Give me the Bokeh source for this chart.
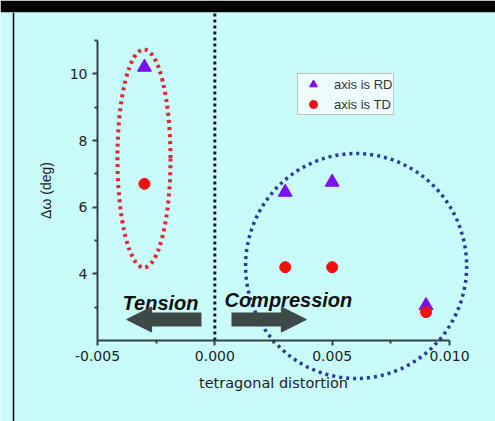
from bokeh.plotting import figure
from bokeh.models import (Range1d, FixedTicker, NumeralTickFormatter, Span, Arrow,
                          NormalHead, ColumnDataSource, Legend, LegendItem)
from bokeh.core.properties import value
from bokeh.embed import file_html
from bokeh.resources import INLINE

# ---- data ----
rd_x = [-0.003, 0.003, 0.005, 0.009]
rd_y = [10.2, 6.45, 6.75, 3.05]
td_x = [-0.003, 0.003, 0.005, 0.009]
td_y = [6.7, 4.2, 4.2, 2.85]

x_ticks = [-0.005, 0.0, 0.005, 0.010]
x_minor = [-0.0025, 0.0025, 0.0075]
y_ticks = [4, 6, 8, 10]
y_minor = [3, 5, 7, 9, 11]

# grouping ellipses (red: tension group, blue: compression group)
ell_x = [-0.00302, 0.00602]
ell_y = [7.46, 4.235]
ell_w = [0.00226, 0.00942]
ell_h = [6.54, 6.75]

# annotation arrows and words
arrow_x0 = [-0.00057, 0.00071]
arrow_x1 = [-0.00376, 0.0039]
arrow_y = [2.63, 2.63]
note_text = ["Tension", "Compression"]
note_x = [-0.00393, 0.00041]
note_y = [3.14, 3.23]

BG = "#c9fbfb"
PURPLE = "#7b10f0"
RED = "#f01010"
ARROW = "#3d4947"
AXIS = "#354141"

p = figure(width=495, height=421, output_backend="svg", toolbar_location=None,
           x_range=Range1d(-0.0091335, 0.0119602), y_range=Range1d(-0.43, 11.84),
           min_border_top=12, min_border_left=0, min_border_right=0, min_border_bottom=0,
           border_fill_color="black", background_fill_color=BG, outline_line_color=None)
p.grid.visible = False

# axes at fixed data positions
p.xaxis.fixed_location = 2
p.yaxis.fixed_location = -0.005
p.xaxis.bounds = (-0.005, 0.010)
p.yaxis.bounds = (2, 11)
p.xaxis.ticker = FixedTicker(ticks=x_ticks, minor_ticks=x_minor)
p.yaxis.ticker = FixedTicker(ticks=y_ticks, minor_ticks=y_minor)
p.xaxis.formatter = NumeralTickFormatter(format="0.000")
p.yaxis.formatter = NumeralTickFormatter(format="0")
for ax in (p.xaxis, p.yaxis):
    ax.axis_line_color = AXIS
    ax.axis_line_width = 2
    ax.major_tick_line_color = AXIS
    ax.major_tick_line_width = 2
    ax.minor_tick_line_color = AXIS
    ax.minor_tick_line_width = 2
    ax.major_tick_in = 0
    ax.major_tick_out = 5
    ax.minor_tick_in = 0
    ax.minor_tick_out = 3
    ax.major_label_text_font = "DejaVu Sans"
    ax.major_label_text_font_size = "14px"
    ax.major_label_text_color = "#1e1e1e"
    ax.major_label_standoff = 5
    ax.axis_label_text_font_style = "normal"
    ax.axis_label_text_color = "#1e1e1e"
p.xaxis.axis_label = "tetragonal distortion"
p.xaxis.axis_label_text_font = "DejaVu Sans"
p.xaxis.axis_label_text_font_size = "14.5px"
p.xaxis.axis_label_standoff = 11
p.yaxis.axis_label = "Δω (deg)"
p.yaxis.axis_label_text_font = "Liberation Sans"
p.yaxis.axis_label_text_font_size = "14px"
p.yaxis.axis_label_standoff = 13

# left frame line
p.add_layout(Span(location=13, location_units="screen", dimension="height",
                  line_color="black", line_width=1.5))

# dotted zero line
p.segment(x0=[0.0], y0=[2], x1=[0.0], y1=[11.84], line_color="#1a1a1a",
          line_width=3, line_dash="3 3")

# grouping ellipses
p.ellipse(x=ell_x[:1], y=ell_y[:1], width=ell_w[:1], height=ell_h[:1],
          fill_color=None, line_color="#e0262e", line_width=4, line_dash="3 4")
p.ellipse(x=ell_x[1:], y=ell_y[1:], width=ell_w[1:], height=ell_h[1:],
          fill_color=None, line_color="#2b3b9b", line_width=3.5, line_dash="3 4")

# arrows
asrc = ColumnDataSource(dict(x0=arrow_x0, x1=arrow_x1, y=arrow_y))
p.add_layout(Arrow(source=asrc, x_start="x0", y_start="y", x_end="x1", y_end="y",
                   line_width=14, line_color=ARROW,
                   end=NormalHead(size=25, fill_color=ARROW, line_color=ARROW)))

p.text(x=note_x, y=note_y, text=note_text, text_font=value("Liberation Sans"),
       text_font_size="20px", text_font_style="bold italic", text_color="#111111",
       text_align="left", text_baseline="alphabetic")

# data points
r1 = p.scatter(rd_x, rd_y, marker="triangle", size=14, color=PURPLE)
r2 = p.scatter(td_x, td_y, marker="circle", size=11, color=RED)

legend = Legend(items=[LegendItem(label="axis is RD", renderers=[r1]),
                       LegendItem(label="axis is TD", renderers=[r2])],
                location=(297, 306), glyph_width=30, glyph_height=20, label_height=20,
                spacing=0, padding=0, margin=0, label_standoff=6,
                label_text_font="Liberation Sans", label_text_font_size="13px",
                label_text_color="#333333", background_fill_color="#eefefe",
                background_fill_alpha=1, border_line_color="#888888", border_line_width=1)
p.add_layout(legend)

open("out.html", "w").write(file_html(p, INLINE))
